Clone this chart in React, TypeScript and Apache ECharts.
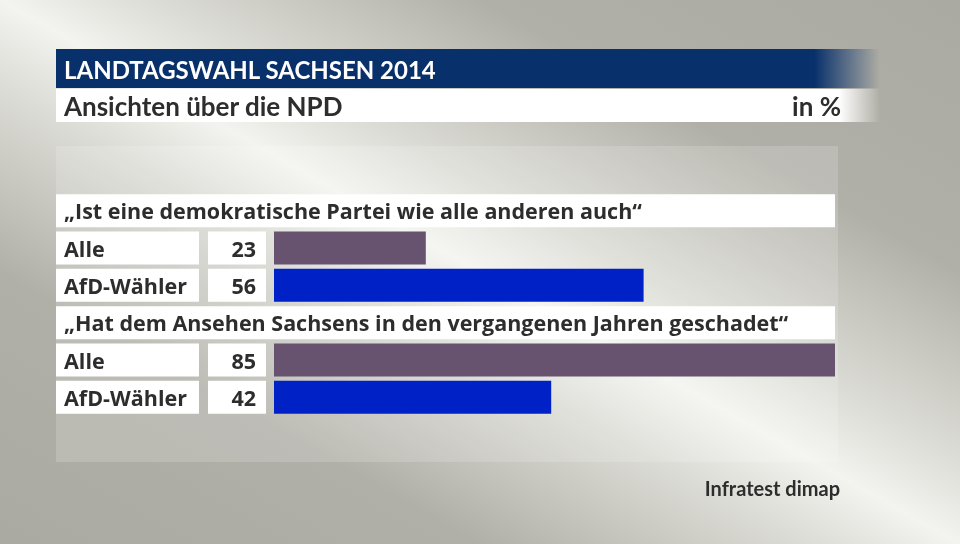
import React, { useEffect, useRef } from "react";
import * as echarts from "echarts";

const questions = [
  "„Ist eine demokratische Partei wie alle anderen auch“",
  "„Hat dem Ansehen Sachsens in den vergangenen Jahren geschadet“",
];
const groups = ["Alle", "AfD-Wähler"];
const valuesAlle = [23, 85];
const valuesAfD = [56, 42];
const groupColors = ["#67536f", "#0021c5"];

const titleText = "LANDTAGSWAHL SACHSEN 2014";
const subtitleText = "Ansichten über die NPD";
const unitText = "in %";
const sourceText = "Infratest dimap";

const FONT = "Lato, 'Open Sans', sans-serif";
const LABEL_FONT = "'Open Sans', Lato, sans-serif";
const TEXT = "#2d2d2d";

type Row = { kind: "q" | "g"; label: string; value: number | null; color?: string };

function buildRows(): Row[] {
  const rows: Row[] = [];
  questions.forEach((q, i) => {
    rows.push({ kind: "q", label: q, value: null });
    const vals = [valuesAlle[i], valuesAfD[i]];
    groups.forEach((g, j) => {
      rows.push({ kind: "g", label: g, value: vals[j], color: groupColors[j] });
    });
  });
  return rows;
}

export default function App() {
  const ref = useRef<HTMLDivElement>(null);
  useEffect(() => {
    if (!ref.current) return;
    const chart = echarts.init(ref.current, undefined, { renderer: "svg" });
    const rows = buildRows();
    const cats = rows.map((r, i) => `${i}`);
    const rowH = 33;
    const labelStyle = {
      height: rowH,
      lineHeight: rowH,
      backgroundColor: "#ffffff",
      fontSize: 21.5,
      fontWeight: "bold",
      fontFamily: LABEL_FONT,
      color: TEXT,
    };

    const option: any = {
      animation: false,
      graphic: [
        {
          type: "rect",
          z: -20,
          silent: true,
          shape: { x: 0, y: 0, width: 960, height: 544 },
          style: {
            fill: new echarts.graphic.LinearGradient(1, 0, 0, 1, [
              { offset: 0, color: "#abaaa2" },
              { offset: 0.25, color: "#b1b0a8" },
              { offset: 0.42, color: "#dcdcd6" },
              { offset: 0.5, color: "#f3f3ef" },
              { offset: 0.58, color: "#dcdcd6" },
              { offset: 0.75, color: "#b1b0a8" },
              { offset: 1, color: "#abaaa2" },
            ]),
          },
        },
        {
          type: "rect",
          z: -19,
          silent: true,
          shape: { x: 56, y: 146, width: 782, height: 316 },
          style: { fill: "rgba(255,255,255,0.16)" },
        },
        {
          type: "rect",
          z: -18,
          silent: true,
          shape: { x: 56, y: 49, width: 824, height: 39 },
          style: {
            fill: new echarts.graphic.LinearGradient(0, 0, 1, 0, [
              { offset: 0, color: "#08306b" },
              { offset: 0.92, color: "#08306b" },
              { offset: 1, color: "rgba(8,48,107,0)" },
            ]),
          },
        },
        {
          type: "rect",
          z: -18,
          silent: true,
          shape: { x: 56, y: 89, width: 824, height: 33 },
          style: {
            fill: new echarts.graphic.LinearGradient(0, 0, 1, 0, [
              { offset: 0, color: "#ffffff" },
              { offset: 0.95, color: "#ffffff" },
              { offset: 1, color: "rgba(255,255,255,0)" },
            ]),
          },
        },
        {
          type: "text",
          z: 10,
          x: 64,
          y: 69,
          style: {
            text: titleText,
            fill: "#ffffff",
            font: `bold 24px ${FONT}`,
            verticalAlign: "middle",
          },
        },
        {
          type: "text",
          z: 10,
          x: 64,
          y: 106,
          style: {
            text: subtitleText,
            fill: TEXT,
            font: `bold 26px ${FONT}`,
            verticalAlign: "middle",
          },
        },
        {
          type: "text",
          z: 10,
          x: 841,
          y: 106,
          style: {
            text: unitText,
            fill: TEXT,
            font: `bold 26px ${FONT}`,
            align: "right",
            verticalAlign: "middle",
          },
        },
        {
          type: "text",
          z: 10,
          x: 840,
          y: 488,
          style: {
            text: sourceText,
            fill: TEXT,
            font: `bold 20px ${FONT}`,
            align: "right",
            verticalAlign: "middle",
          },
        },
      ],
      grid: { left: 274, right: 125, top: 192, height: 224, containLabel: false },
      xAxis: { type: "value", min: 0, max: 85, show: false },
      yAxis: {
        type: "category",
        inverse: true,
        data: cats,
        axisLine: { show: false },
        axisTick: { show: false },
        splitLine: { show: false },
        axisLabel: {
          margin: 218,
          align: "left",
          formatter: (_v: string, idx: number) => {
            const r = rows[idx];
            if (!r) return "";
            if (r.kind === "q") return `{q|${r.label}}`;
            return `{n|${r.label}}{g| }{v|${r.value}}`;
          },
          rich: {
            q: { ...labelStyle, width: 771, padding: [0, 0, 0, 8] },
            n: { ...labelStyle, width: 135, padding: [0, 0, 0, 8] },
            g: { width: 9, height: rowH, fontSize: 10 },
            v: { ...labelStyle, width: 48, padding: [0, 10, 0, 0], align: "right" },
          },
        },
      },
      series: [
        {
          type: "bar",
          barWidth: rowH,
          data: rows.map((r) =>
            r.value == null ? "-" : { value: r.value, itemStyle: { color: r.color } }
          ),
          label: { show: false },
        },
      ],
    };
    chart.setOption(option);
    return () => chart.dispose();
  }, []);
  return (
    <div
      ref={ref}
      style={{ position: "fixed", left: 0, top: 0, width: 960, height: 544 }}
    />
  );
}
